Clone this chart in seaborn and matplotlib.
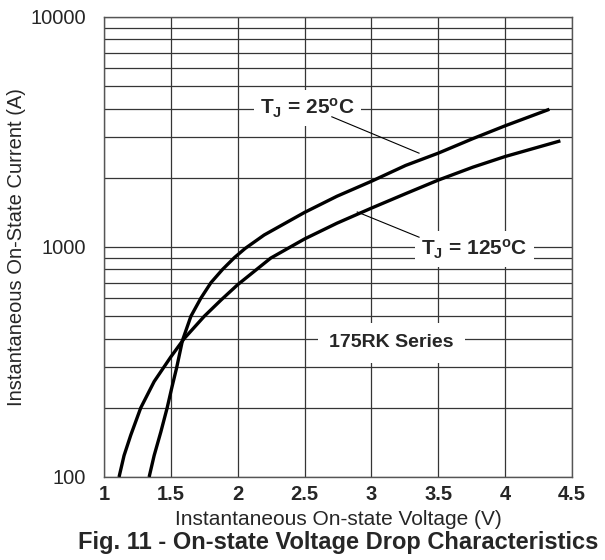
import matplotlib
matplotlib.use("Agg")
import matplotlib.pyplot as plt
import matplotlib.ticker as mticker
import numpy as np
import pandas as pd
import seaborn as sns

# On-state characteristics of the 175RK series thyristor
v_25 = [1.3375, 1.375, 1.425, 1.4725, 1.506, 1.543, 1.5865, 1.65, 1.725, 1.80, 1.8875,
        1.976, 2.055, 2.198, 2.50, 2.742, 3.00, 3.256, 3.50, 3.759, 4.00, 4.331]
i_25 = [100, 124, 157, 200, 243, 298, 392, 500, 600, 700, 800,
        900, 985, 1128, 1414, 1662, 1931, 2263, 2559, 2960, 3365, 3970]

v_125 = [1.1125, 1.15, 1.20, 1.275, 1.375, 1.50, 1.60, 1.75, 1.875, 2.00,
         2.247, 2.50, 2.742, 3.00, 3.256, 3.50, 3.759, 4.00, 4.413]
i_125 = [100, 124, 152, 200, 260, 333, 400, 500, 588, 686,
         895, 1084, 1269, 1476, 1706, 1954, 2224, 2474, 2894]

x_ticks = [1, 1.5, 2, 2.5, 3, 3.5, 4, 4.5]
x_tick_labels = ["1", "1.5", "2", "2.5", "3", "3.5", "4", "4.5"]
y_ticks = [100, 1000, 10000]
y_tick_labels = ["100", "1000", "10000"]

df = pd.concat([
    pd.DataFrame({"V": v_25, "I": i_25, "Tj": "25"}),
    pd.DataFrame({"V": v_125, "I": i_125, "Tj": "125"}),
])

sns.set_style("white")
plt.rcParams["font.family"] = ["Liberation Sans", "DejaVu Sans"]
plt.rcParams["mathtext.fontset"] = "custom"
plt.rcParams["mathtext.rm"] = "Liberation Sans:bold"
plt.rcParams["mathtext.bf"] = "Liberation Sans:bold"
plt.rcParams["mathtext.it"] = "Liberation Sans:bold"
plt.rcParams["lines.solid_joinstyle"] = "round"
plt.rcParams["lines.solid_capstyle"] = "butt"

fig = plt.figure(figsize=(6.05, 5.6), dpi=100)
ax = fig.add_axes([104 / 605, 1 - 477 / 560, (572 - 104) / 605, (477 - 17) / 560])

sns.lineplot(data=df, x="V", y="I", hue="Tj", palette={"25": "black", "125": "black"},
             linewidth=2.4, sort=False, estimator=None, legend=False, ax=ax, zorder=3)

ax.set_yscale("log")
ax.set_xlim(1, 4.5)
ax.set_ylim(100, 10000)

ax.set_xticks(x_ticks)
ax.set_xticklabels(x_tick_labels, fontsize=14.5, fontweight="bold")
ax.set_yticks(y_ticks)
ax.set_yticklabels(y_tick_labels, fontsize=14.5)
ax.yaxis.set_minor_locator(mticker.LogLocator(base=10, subs=np.arange(2, 10)))
ax.yaxis.set_minor_formatter(mticker.NullFormatter())
ax.tick_params(which="both", length=0)
ax.tick_params(axis="x", pad=6)
ax.tick_params(axis="y", pad=13)

ax.grid(True, which="both", color="#353535", linewidth=0.9)
ax.set_axisbelow(True)
for s in ax.spines.values():
    s.set_color("#555555")
    s.set_linewidth(1.0)

ax.set_xlabel("Instantaneous On-state Voltage (V)", fontsize=15, labelpad=4)
ax.set_ylabel("")
fig.text(17 / 605, 1 - 247 / 560, "Instantaneous On-State Current (A)", fontsize=14.5,
         rotation=90, ha="center", va="center")

# leader lines from labels to curves
ax.plot([2.70, 3.36], [3690, 2553], color="black", linewidth=0.8, zorder=6)
ax.plot([2.89, 3.36], [1423, 1101], color="black", linewidth=0.8, zorder=6)

box = dict(boxstyle="square,pad=0.3", facecolor="white", edgecolor="none")
ax.text(2.52, 4020, r"T$_\mathrm{J}$ = 25$^\mathrm{o}$C", fontsize=15, fontweight="bold",
        ha="center", va="center", bbox=box, zorder=5)
ax.text(3.77, 980, r"T$_\mathrm{J}$ = 125$^\mathrm{o}$C", fontsize=15, fontweight="bold",
        ha="center", va="center", bbox=box, zorder=5)
ax.text(3.15, 383, "175RK Series", fontsize=14, fontweight="bold", ha="center", va="center",
        bbox=dict(boxstyle="square,pad=0.6", facecolor="white", edgecolor="none"), zorder=5)

fig.text(338 / 605, 1 - 542 / 560, "Fig. 11 - On-state Voltage Drop Characteristics",
         fontsize=17, fontweight="bold", ha="center", va="center")

fig.savefig("out.png", dpi=100)
